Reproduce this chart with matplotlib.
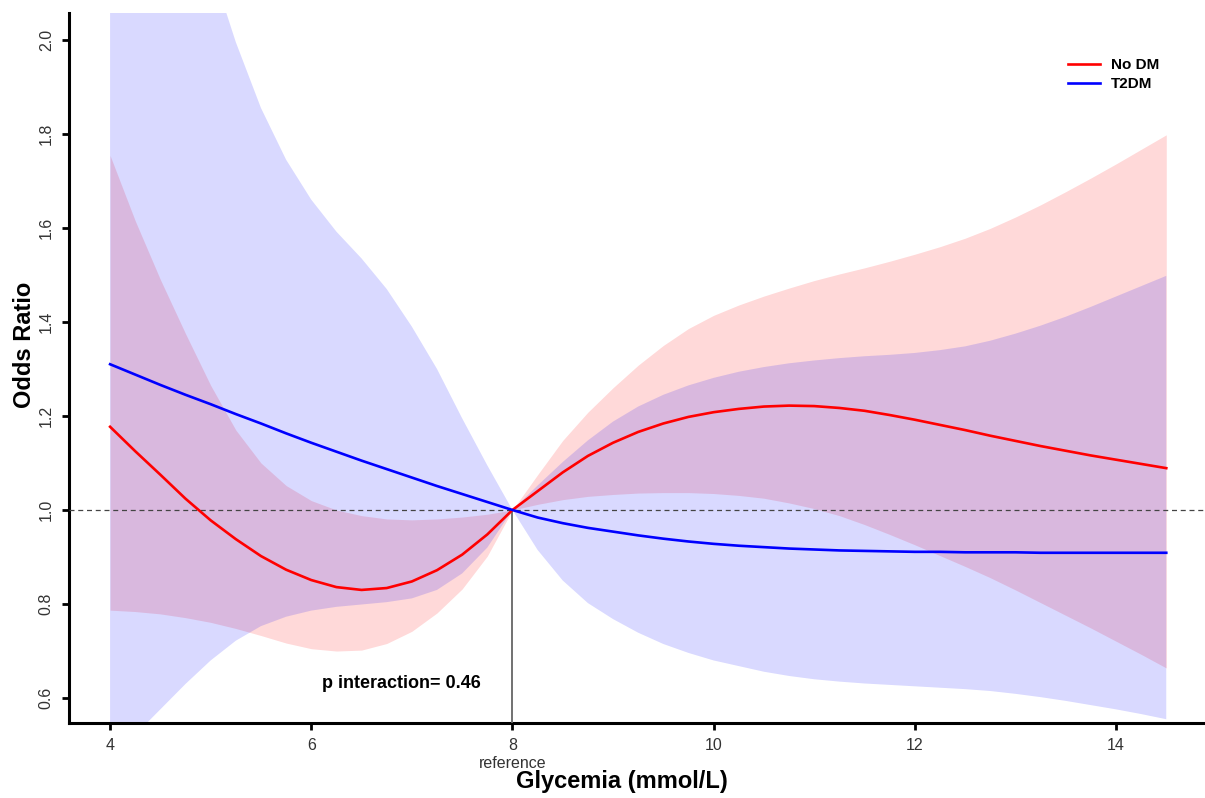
import matplotlib
matplotlib.use("Agg")
import matplotlib.pyplot as plt

plt.rcParams["font.family"] = ["Liberation Sans", "DejaVu Sans"]

# glycemia grid (mmol/L)
glycemia = [4.00, 4.25, 4.50, 4.75, 5.00, 5.25, 5.50, 5.75, 6.00, 6.25, 6.50,
            6.75, 7.00, 7.25, 7.50, 7.75, 8.00, 8.25, 8.50, 8.75, 9.00, 9.25,
            9.50, 9.75, 10.00, 10.25, 10.50, 10.75, 11.00, 11.25, 11.50, 11.75,
            12.00, 12.25, 12.50, 12.75, 13.00, 13.25, 13.50, 13.75, 14.00,
            14.25, 14.50]

# No DM: odds ratio and 95% CI
nodm_or = [1.177, 1.125, 1.075, 1.024, 0.978, 0.938, 0.902, 0.873, 0.851, 0.836,
           0.830, 0.834, 0.848, 0.872, 0.905, 0.948, 1.000,
           1.040, 1.080, 1.115, 1.143, 1.166, 1.184, 1.198, 1.208, 1.215, 1.220,
           1.222, 1.221, 1.217, 1.211, 1.202, 1.192, 1.181, 1.170, 1.158, 1.147,
           1.136, 1.126, 1.116, 1.107, 1.098, 1.089]
nodm_hi = [1.754, 1.615, 1.490, 1.375, 1.265, 1.170, 1.100, 1.052, 1.020, 1.000,
           0.988, 0.981, 0.979, 0.981, 0.985, 0.991, 1.000,
           1.075, 1.148, 1.208, 1.260, 1.308, 1.350, 1.386, 1.414, 1.436, 1.455,
           1.472, 1.488, 1.502, 1.515, 1.529, 1.544, 1.560, 1.578, 1.599, 1.623,
           1.649, 1.677, 1.706, 1.736, 1.767, 1.798]
nodm_lo = [0.787, 0.784, 0.779, 0.771, 0.761, 0.748, 0.733, 0.717, 0.705, 0.700,
           0.702, 0.716, 0.742, 0.781, 0.832, 0.902, 1.000,
           1.012, 1.022, 1.029, 1.033, 1.036, 1.037, 1.037, 1.035, 1.031, 1.025,
           1.015, 1.003, 0.988, 0.969, 0.948, 0.926, 0.903, 0.880, 0.856, 0.830,
           0.803, 0.776, 0.749, 0.721, 0.693, 0.664]

# T2DM: odds ratio and 95% CI
t2dm_or = [1.310, 1.288, 1.266, 1.245, 1.225, 1.204, 1.184, 1.163, 1.143, 1.124,
           1.105, 1.087, 1.069, 1.051, 1.034, 1.017, 1.000,
           0.984, 0.972, 0.962, 0.954, 0.946, 0.939, 0.933, 0.928, 0.924, 0.921,
           0.918, 0.916, 0.914, 0.913, 0.912, 0.911, 0.911, 0.910, 0.910, 0.910,
           0.909, 0.909, 0.909, 0.909, 0.909, 0.909]
t2dm_hi = [3.200, 2.850, 2.560, 2.330, 2.160, 1.995, 1.855, 1.745, 1.660, 1.592,
           1.535, 1.470, 1.390, 1.300, 1.195, 1.095, 1.000,
           1.052, 1.102, 1.148, 1.188, 1.220, 1.245, 1.265, 1.281, 1.294, 1.304,
           1.312, 1.318, 1.323, 1.327, 1.330, 1.334, 1.340, 1.348, 1.360, 1.375,
           1.392, 1.411, 1.432, 1.454, 1.476, 1.498]
t2dm_lo = [0.470, 0.522, 0.576, 0.630, 0.680, 0.722, 0.753, 0.773, 0.786, 0.794,
           0.799, 0.804, 0.812, 0.830, 0.865, 0.920, 1.000,
           0.915, 0.850, 0.802, 0.768, 0.739, 0.715, 0.696, 0.680, 0.668, 0.656,
           0.647, 0.640, 0.635, 0.631, 0.628, 0.625, 0.622, 0.619, 0.615, 0.609,
           0.602, 0.594, 0.585, 0.576, 0.566, 0.555]

x_ticks = [4, 6, 8, 10, 12, 14]
y_ticks = [0.6, 0.8, 1.0, 1.2, 1.4, 1.6, 1.8, 2.0]
ref_x = 8
p_text = "p interaction= 0.46"

fig = plt.figure(figsize=(12.05, 7.98), dpi=100)
ax = fig.add_axes([0.0573, 0.094, 0.9427, 0.8897])

ax.fill_between(glycemia, nodm_lo, nodm_hi, color="red", alpha=0.15, lw=0)
ax.fill_between(glycemia, t2dm_lo, t2dm_hi, color="blue", alpha=0.15, lw=0)

ax.axhline(1.0, color="#444444", lw=0.9, ls=(0, (4, 3)), zorder=3)
ax.plot([ref_x, ref_x], [0.0, 1.0], color="#666666", lw=1.3, zorder=3)

ax.plot(glycemia, nodm_or, color="red", lw=1.9, label="No DM", zorder=4)
ax.plot(glycemia, t2dm_or, color="blue", lw=1.9, label="T2DM", zorder=4)

ax.set_xlim(3.592, 14.885)
ax.set_ylim(0.547, 2.057)
ax.set_xticks(x_ticks)
ax.set_yticks(y_ticks)
ax.set_yticklabels([f"{v:.1f}" for v in y_ticks], rotation=90, va="center")

for side in ("top", "right"):
    ax.spines[side].set_visible(False)
for side in ("left", "bottom"):
    ax.spines[side].set_linewidth(2.2)
ax.tick_params(axis="both", length=5, width=2.0, pad=6,
               labelsize=11.5, labelcolor="#333333")

ax.text(ref_x, -0.057, "reference", transform=ax.get_xaxis_transform(),
        ha="center", va="center", fontsize=11.5, color="#333333")
ax.text(6.9, 0.632, p_text, ha="center", va="center",
        fontsize=13, fontweight="bold")

ax.set_xlabel("Glycemia (mmol/L)", fontsize=17, fontweight="bold")
ax.xaxis.set_label_coords((622 - 69) / 1136, -0.066)
ax.set_ylabel("Odds Ratio", fontsize=17, fontweight="bold")
ax.yaxis.set_label_coords(-0.029, (723 - 345) / 710)

ax.legend(loc="upper left", bbox_to_anchor=(0.879, 0.936), frameon=False,
          prop={"weight": "bold", "size": 11}, handlelength=2.1,
          handletextpad=0.75, labelspacing=0.3, borderpad=0, borderaxespad=0)

fig.savefig("out.png", dpi=100)
